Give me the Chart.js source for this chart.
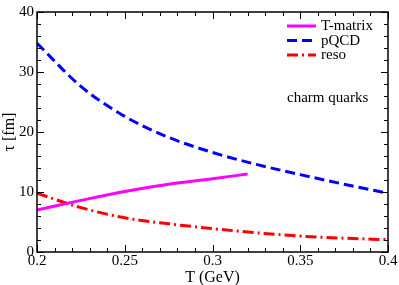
<!DOCTYPE html>
<html>
<head>
<meta charset="utf-8">
<script src="https://cdn.jsdelivr.net/npm/chart.js@4"></script>
<style>
  html, body { margin: 0; padding: 0; background: #fff; }
  #wrap { width: 399px; height: 285px; }
</style>
</head>
<body>
<div id="wrap"><canvas id="tauChart" width="399" height="285"></canvas></div>
<script>
// temperatures (GeV) and relaxation times (fm)
const tempsMatrix = [0.2, 0.225, 0.25, 0.275, 0.3, 0.32];
const tauMatrix   = [7.0, 8.6, 10.1, 11.3, 12.2, 13.0];

const tempsPQCD = [0.2, 0.225, 0.25, 0.275, 0.3, 0.325, 0.35, 0.375, 0.4];
const tauPQCD   = [34.8, 27.6, 22.6, 19.1, 16.6, 14.6, 12.9, 11.3, 9.8];

const tempsReso = [0.2, 0.225, 0.25, 0.275, 0.3, 0.325, 0.35, 0.375, 0.4];
const tauReso   = [9.8, 7.4, 5.7, 4.7, 3.9, 3.2, 2.65, 2.3, 2.05];

const xTicks = [0.2, 0.25, 0.3, 0.35, 0.4];
const yTicks = [0, 10, 20, 30, 40];

const serif = "'Liberation Serif', 'DejaVu Serif', serif";

const toPoints = (xs, ys) => xs.map((x, i) => ({ x: x, y: ys[i] }));

// ticks inside the frame on all four sides, plus the frame and legend
const framePlugin = {
  id: "frame",
  afterDraw(chart) {
    const ctx = chart.ctx;
    const a = chart.chartArea;
    const xs = chart.scales.x, ys = chart.scales.y;
    ctx.save();
    ctx.strokeStyle = "#000";
    ctx.lineWidth = 1;
    ctx.beginPath();
    for (let v = 0.2; v <= 0.4001; v += 0.01) {
      const px = Math.round(xs.getPixelForValue(v)) + 0.5;
      const major = Math.abs(v * 20 - Math.round(v * 20)) < 1e-6;
      const len = major ? 7 : 4;
      ctx.moveTo(px, a.bottom); ctx.lineTo(px, a.bottom - len);
      ctx.moveTo(px, a.top); ctx.lineTo(px, a.top + len);
    }
    for (let v = 0; v <= 40; v += 2) {
      const py = Math.round(ys.getPixelForValue(v)) + 0.5;
      const len = v % 10 === 0 ? 7 : 4;
      ctx.moveTo(a.left, py); ctx.lineTo(a.left + len, py);
      ctx.moveTo(a.right, py); ctx.lineTo(a.right - len, py);
    }
    ctx.stroke();
    ctx.lineWidth = 1.5;
    ctx.strokeRect(a.left, a.top, a.right - a.left, a.bottom - a.top);

    // legend
    const rows = [26, 40.5, 55];
    ctx.font = "15px " + serif;
    ctx.textBaseline = "middle";
    chart.data.datasets.forEach((ds, i) => {
      ctx.strokeStyle = ds.borderColor;
      ctx.lineWidth = ds.borderWidth;
      ctx.setLineDash(ds.borderDash || []);
      ctx.beginPath();
      ctx.moveTo(287, rows[i]);
      ctx.lineTo(316, rows[i]);
      ctx.stroke();
      ctx.setLineDash([]);
      ctx.fillStyle = "#000";
      ctx.fillText(ds.label, 321, rows[i] + 0.5);
    });
    ctx.fillText("charm quarks", 287, 98);
    ctx.restore();
  }
};

new Chart(document.getElementById("tauChart"), {
  type: "line",
  data: {
    datasets: [
      {
        label: "T-matrix",
        data: toPoints(tempsMatrix, tauMatrix),
        borderColor: "#ff00ff",
        borderWidth: 3,
        cubicInterpolationMode: "monotone"
      },
      {
        label: "pQCD",
        data: toPoints(tempsPQCD, tauPQCD),
        borderColor: "#0000ff",
        borderWidth: 3,
        borderDash: [10, 5],
        cubicInterpolationMode: "monotone"
      },
      {
        label: "reso",
        data: toPoints(tempsReso, tauReso),
        borderColor: "#ff0000",
        borderWidth: 3,
        borderDash: [11, 4, 2, 4],
        cubicInterpolationMode: "monotone"
      }
    ]
  },
  options: {
    responsive: false,
    animation: false,
    devicePixelRatio: 1,
    layout: { padding: { top: 6, right: 11, left: 0, bottom: 0 } },
    elements: { point: { radius: 0 } },
    plugins: { legend: { display: false }, tooltip: { enabled: false } },
    scales: {
      x: {
        type: "linear",
        min: 0.2, max: 0.4,
        afterBuildTicks: s => { s.ticks = xTicks.map(v => ({ value: v })); },
        afterFit: s => { s.height = 33; },
        grid: { display: false, drawTicks: false },
        border: { display: false },
        ticks: {
          padding: 0,
          color: "#000",
          font: { family: serif, size: 15 },
          maxRotation: 0,
          callback: v => String(v)
        },
        title: {
          display: true,
          text: "T (GeV)",
          color: "#000",
          font: { family: serif, size: 16 },
          padding: { top: 0, bottom: -2 }
        }
      },
      y: {
        min: 0, max: 40,
        afterBuildTicks: s => { s.ticks = yTicks.map(v => ({ value: v })); },
        afterFit: s => { s.width = 37; },
        grid: { display: false, drawTicks: false },
        border: { display: false },
        ticks: {
          padding: 3,
          color: "#000",
          font: { family: serif, size: 15 }
        },
        title: {
          display: true,
          text: "τ [fm]",
          color: "#000",
          font: { family: serif, size: 16 },
          padding: { top: 0, bottom: 0 }
        }
      }
    }
  },
  plugins: [framePlugin]
});
</script>
</body>
</html>
